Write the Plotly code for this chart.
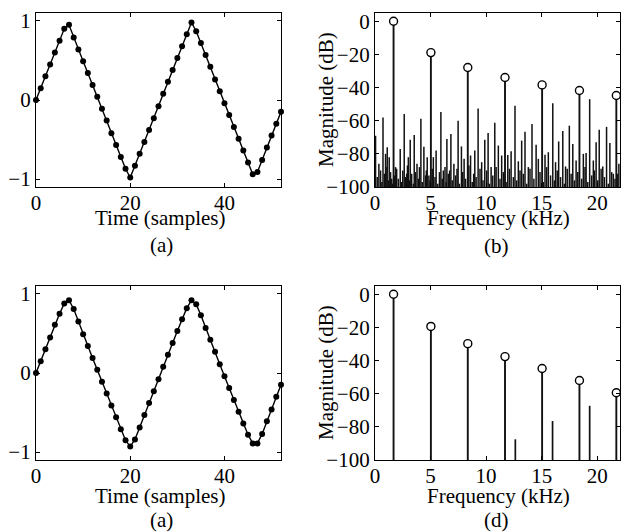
import plotly.graph_objects as go

# ---------------- data ----------------
samples = list(range(53))

trivial_tri = [0.00, 0.15, 0.30, 0.45, 0.60, 0.75, 0.90, 0.95, 0.79, 0.64,
               0.49, 0.34, 0.19, 0.04, -0.11, -0.26, -0.42, -0.57, -0.72, -0.87,
               -0.98, -0.83, -0.68, -0.53, -0.38, -0.23, -0.08, 0.08, 0.23, 0.38,
               0.53, 0.68, 0.83, 0.98, 0.87, 0.72, 0.57, 0.42, 0.26, 0.11,
               -0.04, -0.19, -0.34, -0.49, -0.64, -0.79, -0.94, -0.91, -0.76, -0.60,
               -0.45, -0.30, -0.15]

bandlim_tri = [0.00, 0.15, 0.30, 0.45, 0.61, 0.75, 0.88, 0.92, 0.81, 0.65,
               0.49, 0.34, 0.19, 0.04, -0.11, -0.26, -0.41, -0.56, -0.71, -0.85,
               -0.93, -0.84, -0.69, -0.53, -0.38, -0.23, -0.08, 0.08, 0.23, 0.38,
               0.53, 0.68, 0.82, 0.92, 0.87, 0.73, 0.57, 0.42, 0.27, 0.11,
               -0.04, -0.19, -0.34, -0.49, -0.64, -0.78, -0.89, -0.89, -0.77, -0.61,
               -0.46, -0.30, -0.15]

harm_freq = [1.67, 5.03, 8.35, 11.70, 15.04, 18.40, 21.72]
harm_db_b = [0.0, -18.9, -27.9, -33.9, -38.4, -41.8, -44.8]
harm_db_d = [0.0, -19.4, -29.8, -37.6, -44.8, -52.0, -59.4]

alias_freq_b = [0.05, 0.35, 0.72, 0.95, 1.10, 1.28, 1.50, 1.85, 2.27, 2.63,
                2.85, 3.00, 3.17, 3.53, 3.78, 4.13, 4.40, 4.70, 4.85, 5.25,
                5.50, 5.93, 6.15, 6.47, 6.83, 7.10, 7.48, 7.78, 8.02, 8.60,
                8.98, 9.28, 9.60, 9.88, 10.18, 10.45, 10.78, 11.10, 11.40, 11.95,
                12.25, 12.60, 12.90, 13.20, 13.50, 13.80, 14.13, 14.50, 14.70, 15.30,
                15.60, 16.00, 16.25, 16.53, 16.90, 17.15, 17.49, 17.80, 18.10, 18.75,
                19.00, 19.32, 19.65, 19.90, 20.18, 20.50, 20.84, 21.14, 21.45, 21.95]
alias_db_b = [-69, -86, -58, -80, -76, -82, -95, -88, -77, -56,
              -92, -82, -71.5, -68.6, -86, -58.8, -75.7, -82, -93, -82,
              -78, -54.8, -90, -71, -68, -86, -60, -75.5, -83, -81,
              -78, -52.7, -85, -71.5, -67.4, -88, -61.3, -75, -81, -80.7,
              -78.5, -51, -84.5, -72, -66.6, -88, -62, -74.5, -83, -80.5,
              -79, -49.5, -85, -72.5, -66.2, -87.6, -63, -74, -84, -80,
              -79.5, -47, -84, -73, -65.4, -87.6, -63.7, -73.5, -92, -86]

floor_freq_b = [0.20, 0.50, 0.62, 0.85, 1.00, 1.20, 1.40, 1.58, 1.78, 1.95,
                2.10, 2.40, 2.50, 2.75, 2.92, 3.10, 3.30, 3.45, 3.65, 3.90,
                4.00, 4.25, 4.55, 4.62, 4.95, 5.15, 5.40, 5.65, 5.80, 6.05,
                6.30, 6.40, 6.60, 6.72, 6.95, 7.25, 7.38, 7.60, 7.90, 8.15,
                8.45, 8.75, 8.88, 9.10, 9.45, 9.72, 10.05, 10.30, 10.60, 10.90,
                11.25, 11.55, 11.80, 12.10, 12.45, 12.75, 13.05, 13.35, 13.65, 13.95,
                14.30, 14.85, 15.15, 15.45, 15.80, 16.15, 16.40, 16.70, 17.05, 17.30,
                17.65, 17.95, 18.25, 18.60, 18.90, 19.15, 19.50, 19.75, 20.05, 20.35,
                20.65, 21.00, 21.30, 21.60, 21.85]
floor_db_b = [-94, -90, -97, -92, -88, -96, -91, -98, -93, -89,
              -95, -97, -90, -94, -87, -96, -92, -98, -91, -95,
              -88, -97, -93, -90, -96, -89, -94, -98, -91, -95,
              -88, -97, -92, -90, -96, -93, -89, -98, -91, -95,
              -87, -97, -92, -94, -89, -96, -90, -98, -93, -88,
              -95, -91, -97, -89, -94, -96, -90, -92, -98, -89,
              -95, -91, -97, -88, -93, -96, -90, -94, -98, -89,
              -92, -96, -91, -95, -88, -97, -93, -90, -96, -89,
              -94, -98, -91, -95, -92]

alias_freq_d = [12.63, 15.98, 19.32]
alias_db_d = [-87.5, -76.5, -67.3]

time_ticks = [0, 20, 40]
lin_ticks = [-1, 0, 1]
freq_ticks = [0, 5, 10, 15, 20]
db_ticks = [-100, -80, -60, -40, -20, 0]

FLOOR = -100

# ---------------- helpers ----------------
def stems(freqs, dbs):
    xs, ys = [], []
    for f, d in zip(freqs, dbs):
        xs += [f, f, None]
        ys += [FLOOR, d, None]
    return xs, ys

W, H = 624, 532
FONT = "Liberation Serif"
FS = 21

def px(x):
    return x / W

def py(y):
    return 1 - y / H

fig = go.Figure()

# (a) top: trivial triangle
fig.add_trace(go.Scatter(x=samples, y=trivial_tri, mode="lines+markers",
                         line=dict(color="black", width=1.4),
                         marker=dict(color="black", size=6),
                         cliponaxis=False, xaxis="x", yaxis="y"))

# (b) spectrum of trivial triangle
for fr, db, w in [(floor_freq_b, floor_db_b, 1.5),
                  (alias_freq_b, alias_db_b, 1.5),
                  (harm_freq, harm_db_b, 1.9)]:
    xs, ys = stems(fr, db)
    fig.add_trace(go.Scatter(x=xs, y=ys, mode="lines",
                             line=dict(color="#111", width=w),
                             xaxis="x2", yaxis="y2"))
fig.add_trace(go.Scatter(x=harm_freq, y=harm_db_b, mode="markers",
                         marker=dict(color="white", size=8,
                                     line=dict(color="black", width=1.4)),
                         cliponaxis=False, xaxis="x2", yaxis="y2"))

# (a) bottom: bandlimited triangle
fig.add_trace(go.Scatter(x=samples, y=bandlim_tri, mode="lines+markers",
                         line=dict(color="black", width=1.4),
                         marker=dict(color="black", size=6),
                         cliponaxis=False, xaxis="x3", yaxis="y3"))

# (d) spectrum of bandlimited triangle
for fr, db, w in [(alias_freq_d, alias_db_d, 1.7),
                  (harm_freq, harm_db_d, 1.9)]:
    xs, ys = stems(fr, db)
    fig.add_trace(go.Scatter(x=xs, y=ys, mode="lines",
                             line=dict(color="#111", width=w),
                             xaxis="x4", yaxis="y4"))
fig.add_trace(go.Scatter(x=harm_freq, y=harm_db_d, mode="markers",
                         marker=dict(color="white", size=8,
                                     line=dict(color="black", width=1.4)),
                         cliponaxis=False, xaxis="x4", yaxis="y4"))

axis_common = dict(showline=True, linecolor="black", linewidth=1.2,
                   mirror="allticks", ticks="inside", ticklen=4,
                   tickcolor="black", tickwidth=1, showgrid=False,
                   zeroline=False, fixedrange=True, automargin=False,
                   tickfont=dict(family=FONT, size=FS, color="black"))

left_dom = [px(36), px(281)]
right_dom = [px(375), px(620)]
top_dom = [py(187), py(13)]
bot_dom = [py(460), py(286)]

xa = dict(axis_common, ticklabelstandoff=-3)

fig.update_layout(
    template="none",
    width=W, height=H, autosize=False,
    margin=dict(l=0, r=0, t=0, b=0, pad=0),
    font=dict(family=FONT, size=FS, color="black"),
    paper_bgcolor="white", plot_bgcolor="white",
    showlegend=False,
    xaxis=dict(xa, domain=left_dom, range=[0, 52], tickvals=time_ticks, anchor="y"),
    yaxis=dict(axis_common, domain=top_dom, range=[-1.1, 1.1], tickvals=lin_ticks, anchor="x"),
    xaxis2=dict(xa, domain=right_dom, range=[0, 22.05], tickvals=freq_ticks, anchor="y2"),
    yaxis2=dict(axis_common, domain=top_dom, range=[-100, 5], tickvals=db_ticks, anchor="x2"),
    xaxis3=dict(xa, domain=left_dom, range=[0, 52], tickvals=time_ticks, anchor="y3"),
    yaxis3=dict(axis_common, domain=bot_dom, range=[-1.1, 1.1], tickvals=lin_ticks, anchor="x3"),
    xaxis4=dict(xa, domain=right_dom, range=[0, 22.05], tickvals=freq_ticks, anchor="y4"),
    yaxis4=dict(axis_common, domain=bot_dom, range=[-100, 5], tickvals=db_ticks, anchor="x4"),
)

def label(text, x, y, angle=0):
    fig.add_annotation(text=text, x=px(x), y=py(y), xref="paper", yref="paper",
                       showarrow=False, xanchor="center", yanchor="middle",
                       textangle=angle,
                       font=dict(family=FONT, size=FS, color="black"))

label("Time (samples)", 160, 218)
label("(a)", 161, 245)
label("Frequency (kHz)", 498, 218)
label("(b)", 497, 246)
label("Magnitude (dB)", 326, 100, -90)

label("Time (samples)", 160, 496)
label("(a)", 161, 520)
label("Frequency (kHz)", 498, 496)
label("(d)", 497, 520)
label("Magnitude (dB)", 326, 373, -90)

fig.write_html("out.html", config={"displayModeBar": False},
               post_script="document.body.style.margin='0';document.body.style.overflow='hidden';")
